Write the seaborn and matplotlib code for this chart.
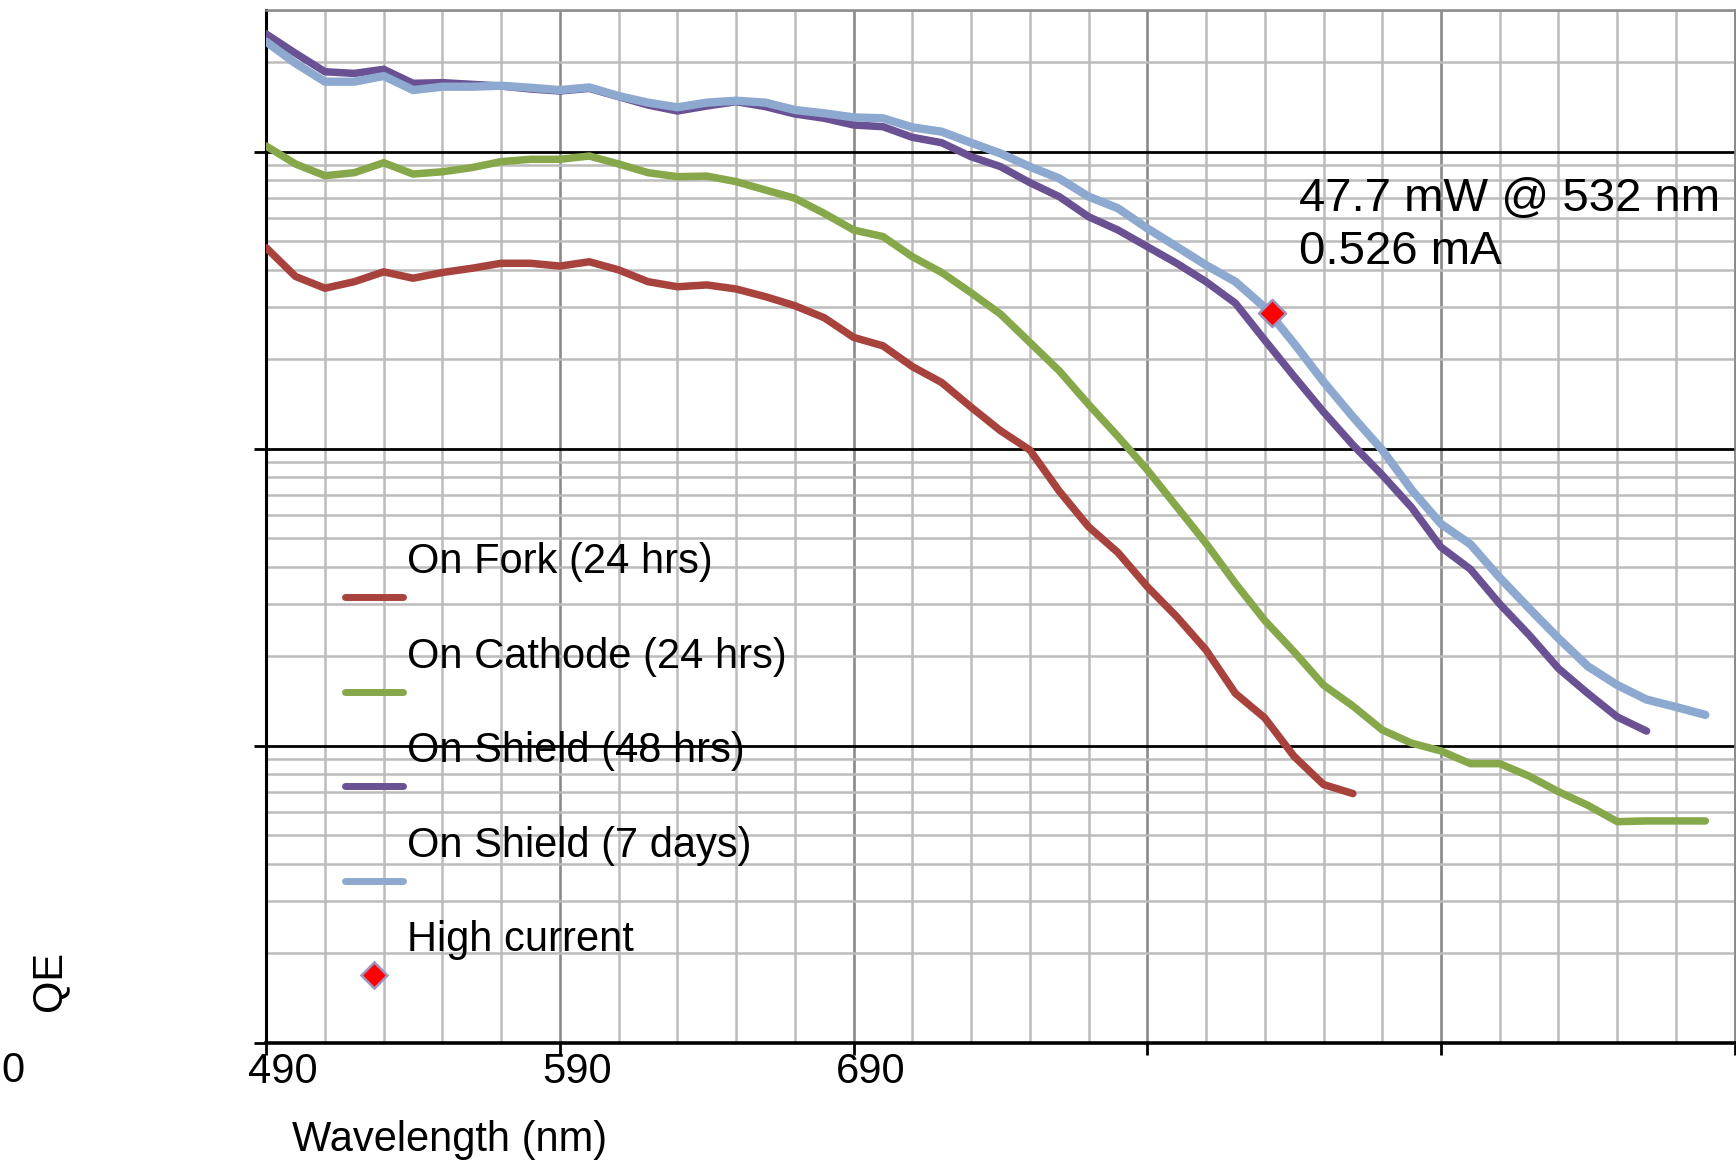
import numpy as np
import pandas as pd
import matplotlib
matplotlib.use("Agg")
import matplotlib.pyplot as plt
import matplotlib.ticker as mticker
import matplotlib.transforms as mtransforms
from matplotlib.lines import Line2D
from matplotlib.legend_handler import HandlerLine2D
import seaborn as sns

# ---------------- data ----------------
wl_fork = list(range(490, 861, 10))
qe_fork = [0.0475, 0.0380, 0.0347, 0.0365, 0.0394, 0.0375, 0.0392, 0.0405, 0.0421, 0.0421,
           0.0412, 0.0426, 0.0400, 0.0365, 0.0351, 0.0356, 0.0345, 0.0325, 0.0303, 0.0276,
           0.0237, 0.0222, 0.0189, 0.0167, 0.0138, 0.0115, 0.0099, 0.0072, 0.00546, 0.00447,
           0.00343, 0.00272, 0.00210, 0.00150, 0.00124, 0.00092, 0.00074, 0.00069]

wl_cathode = list(range(490, 981, 10))
qe_cathode = [0.1045, 0.0909, 0.0830, 0.0850, 0.0918, 0.0841, 0.0856, 0.0884, 0.0926, 0.0943,
              0.0943, 0.0967, 0.0909, 0.0850, 0.0824, 0.0828, 0.0793, 0.0743, 0.0697, 0.0620,
              0.0545, 0.0518, 0.0443, 0.0392, 0.0335, 0.0284, 0.0228, 0.0183, 0.0141, 0.0110,
              0.00848, 0.00638, 0.00480, 0.00352, 0.00264, 0.00207, 0.00160, 0.00136, 0.00113, 0.00102,
              0.00096, 0.00087, 0.00087, 0.00079, 0.00070, 0.00063, 0.000555, 0.000558, 0.000558, 0.000558]

wl_shield48 = list(range(490, 961, 10))
qe_shield48 = [0.2490, 0.2144, 0.1859, 0.1835, 0.1894, 0.1699, 0.1708, 0.1686, 0.1664, 0.1626,
               0.1601, 0.1634, 0.1532, 0.1436, 0.1371, 0.1425, 0.1474, 0.1418, 0.1340, 0.1296,
               0.1230, 0.1214, 0.1118, 0.1072, 0.0962, 0.0891, 0.0787, 0.0706, 0.0604, 0.0545,
               0.0479, 0.0421, 0.0365, 0.0309, 0.0232, 0.0175, 0.0133, 0.0103, 0.00815, 0.00634,
               0.00466, 0.00393, 0.00300, 0.00236, 0.00182, 0.00150, 0.00125, 0.00112]

wl_shield7d = list(range(490, 981, 10))
qe_shield7d = [0.2346, 0.1984, 0.1721, 0.1721, 0.1798, 0.1613, 0.1655, 0.1655, 0.1668, 0.1642,
               0.1613, 0.1646, 0.1540, 0.1463, 0.1411, 0.1463, 0.1485, 0.1463, 0.1382, 0.1347,
               0.1305, 0.1296, 0.1208, 0.1168, 0.1072, 0.0987, 0.0890, 0.0813, 0.0706, 0.0645,
               0.0552, 0.0479, 0.0415, 0.0365, 0.0299, 0.0226, 0.0168, 0.0128, 0.0099, 0.00727,
               0.00558, 0.00477, 0.00368, 0.00290, 0.00230, 0.00185, 0.00160, 0.00143, 0.00135, 0.00127]

hc_wl = [832.6]
hc_qe = [0.0286]

series_names = ["On Fork (24 hrs)", "On Cathode (24 hrs)", "On Shield (48 hrs)", "On Shield (7 days)"]
point_name = "High current"
annotation_lines = ["47.7 mW @ 532 nm", "0.526 mA"]
x_ticks = [490, 590, 690, 790, 890, 990]
x_tick_labels = ["490", "590", "690", "", "", ""]
x_label = "Wavelength (nm)"
y_label = "QE"
y_corner_label = "0"

colors = ["#A8423D", "#86A84A", "#6A5193", "#8DA9CF"]
widths = [5.4, 5.4, 5.4, 6.0]

# ---------------- style ----------------
sns.set_theme(style="white")
plt.rcParams["font.family"] = ["Liberation Sans", "DejaVu Sans"]
plt.rcParams["text.color"] = "black"
plt.rcParams["axes.labelcolor"] = "black"
plt.rcParams["xtick.color"] = "black"
plt.rcParams["ytick.color"] = "black"

W, H = 1736, 1160
fig = plt.figure(figsize=(W / 100, H / 100), dpi=100)
ax = fig.add_axes([266.2 / W, (H - 1042.7) / H, 1468.5 / W, (1042.7 - 10.0) / H])

frames = []
for name, wl, qe in zip(series_names,
                        [wl_fork, wl_cathode, wl_shield48, wl_shield7d],
                        [qe_fork, qe_cathode, qe_shield48, qe_shield7d]):
    frames.append(pd.DataFrame({"wl": wl, "qe": qe, "series": name}))
df = pd.concat(frames, ignore_index=True)

for name, c, lw in zip(series_names, colors, widths):
    sub = df[df["series"] == name]
    n_before = len(ax.get_lines())
    sns.lineplot(data=sub, x="wl", y="qe", color=c, ax=ax,
                 estimator=None, sort=False, legend=False)
    for ln in ax.get_lines()[n_before:]:
        ln.set_linewidth(lw)
        ln.set_solid_capstyle("round")
        ln.set_solid_joinstyle("round")
        ln.set_zorder(3)

sns.scatterplot(x=hc_wl, y=hc_qe, marker="D", s=190, color="#FF0000",
                edgecolor="#9E93BE", linewidth=1.8, ax=ax, zorder=5, legend=False)

ax.set_yscale("log")
ax.set_xlim(490, 990)
ax.set_ylim(1e-4, 0.3)

# grid / ticks
ax.set_axisbelow(True)
ax.xaxis.set_major_locator(mticker.FixedLocator(x_ticks))
ax.xaxis.set_major_formatter(mticker.FixedFormatter(x_tick_labels))
ax.xaxis.set_minor_locator(mticker.FixedLocator(np.arange(510, 990, 20)))
ax.yaxis.set_major_locator(mticker.LogLocator(base=10))
ax.yaxis.set_minor_locator(mticker.LogLocator(base=10, subs=np.arange(2, 10)))
ax.yaxis.set_major_formatter(mticker.NullFormatter())
ax.yaxis.set_minor_formatter(mticker.NullFormatter())

ax.grid(which="minor", color="#BCBCBC", linewidth=1.8)
ax.grid(which="major", axis="x", color="#8A8A8A", linewidth=1.9)
ax.grid(which="major", axis="y", color="black", linewidth=2.0)

ax.tick_params(axis="x", which="major", direction="out", length=8.5, width=2.0,
               color="black", labelsize=30, labelcolor="black", pad=-1.5, bottom=True)
ax.tick_params(axis="y", which="major", direction="out", length=8.3, width=2.0,
               color="black", left=True)
ax.tick_params(which="minor", length=0)

for side in ["top", "right"]:
    ax.spines[side].set_color("#8A8A8A")
    ax.spines[side].set_linewidth(1.8)
ax.spines["left"].set_color("black")
ax.spines["left"].set_linewidth(2.2)
ax.spines["bottom"].set_color("black")
ax.spines["bottom"].set_linewidth(2.6)

offset = mtransforms.ScaledTranslation(17 / 100, 0, fig.dpi_scale_trans)
for lab in ax.get_xticklabels():
    lab.set_transform(lab.get_transform() + offset)

# axis labels
ax.set_xlabel(x_label, fontsize=30, color="black")
ax.xaxis.set_label_coords(0.1251, -0.1051)
ax.xaxis.label.set_va("baseline")
ax.set_ylabel(y_label, fontsize=30, color="black")
ax.yaxis.set_label_coords(-0.1479, 0.0595)
ax.yaxis.label.set_va("center")
ax.yaxis.label.set_ha("center")
ax.text(-0.1725, -0.0384, y_corner_label, transform=ax.transAxes, fontsize=30,
        ha="center", va="baseline", color="black")

# annotation
ax.text(0.7033, 0.8057, annotation_lines[0], transform=ax.transAxes, fontsize=34,
        ha="left", va="baseline", color="black")
ax.text(0.7033, 0.7540, annotation_lines[1], transform=ax.transAxes, fontsize=34,
        ha="left", va="baseline", color="black")


# legend: handle drawn below its label
class LowHandler(HandlerLine2D):
    def __init__(self, dy, **kw):
        super().__init__(**kw)
        self.dy = dy

    def create_artists(self, legend, orig_handle, xdescent, ydescent, width, height,
                       fontsize, trans):
        arts = super().create_artists(legend, orig_handle, xdescent, ydescent, width,
                                      height, fontsize, trans)
        for a in arts:
            a.set_ydata(np.asarray(a.get_ydata(), dtype=float) - self.dy)
        return arts


handles = [Line2D([], [], color=c, linewidth=5.0, solid_capstyle="round") for c in colors]
handles.append(Line2D([], [], marker="D", linestyle="none", markersize=13.5,
                      markerfacecolor="#FF0000", markeredgecolor="#9E93BE",
                      markeredgewidth=1.8))
leg = ax.legend(handles, series_names + [point_name], loc="upper left",
                bbox_to_anchor=(0.0539, 0.4849), frameon=False, fontsize=30,
                handlelength=1.38, handletextpad=0.1, labelspacing=1.31,
                borderpad=0, borderaxespad=0, numpoints=1,
                handler_map={Line2D: LowHandler(dy=27.8)})
for t in leg.get_texts():
    t.set_color("black")

fig.savefig("out.png", dpi=100)
